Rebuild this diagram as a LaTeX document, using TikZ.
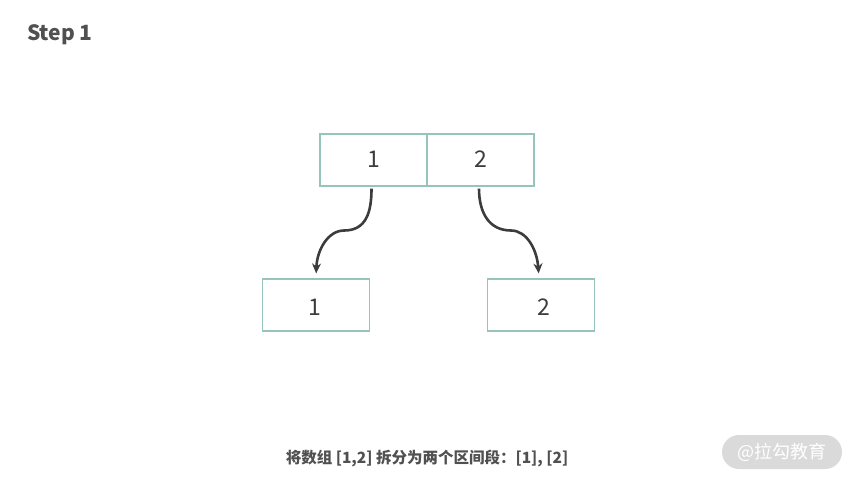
\documentclass[tikz,border=0pt]{standalone}
\usepackage{fontspec}
\setmainfont{Noto Sans CJK SC}
\usepackage{tikz}
\usetikzlibrary{arrows.meta,positioning}
\definecolor{boxline}{RGB}{150,196,186}
\definecolor{ink}{RGB}{60,60,62}
\definecolor{caption}{RGB}{80,80,80}
\definecolor{stamp}{RGB}{218,218,218}
\begin{document}
\begin{tikzpicture}[x=1pt,y=-1pt]
\tikzstyle{cell}=[draw=boxline,line width=1.2pt,minimum width=107pt,minimum height=52pt,inner sep=0pt,text=ink,font=\fontsize{23}{26}\selectfont,node distance=107pt,text height=17pt,text depth=2pt]
\tikzstyle{lowcell}=[cell,text height=21pt,text depth=0pt]
\tikzstyle{arrow}=[draw=ink,line width=2.6pt,-{Stealth[length=10pt,width=9pt]}]
\useasboundingbox (0,0) rectangle (853,480);
\node [cell] at (373.5,160) (u1) {\hspace*{1pt}1};
\node [cell,right of=u1] (u2) {\hspace*{1pt}2};
\node [lowcell] at (316,305) (d1) {\hspace*{-3pt}1};
\node [lowcell] at (541,305) (d2) {\hspace*{5pt}2};
\coordinate (ml) at (344,230.5);
\coordinate (mr) at (511,230.5);
\draw [arrow,shorten <=2pt,shorten >=5pt] ([xshift=-2pt]u1.south) .. controls +(0,26) and (366,230.5) .. (ml) .. controls (328,230.5) and (317,250) .. (d1.north);
\draw [arrow,shorten <=2pt,shorten >=5pt] ([xshift=-1.5pt]u2.south) .. controls +(0,26) and (489,230.5) .. (mr) .. controls (527,230.5) and (537,250) .. ([xshift=-2pt]d2.north);
\node [font=\fontsize{21}{25}\selectfont\bfseries,text=caption,anchor=west,inner sep=0pt] at (27,35) (title) {Step 1};
\node [font=\fontsize{15.5}{18}\selectfont\bfseries,text=caption,inner sep=0pt] at (427,458) (note) {将数组 [1,2] 拆分为两个区间段：[1], [2]};
\node [fill=stamp,rounded corners=17pt,minimum width=120pt,minimum height=34pt,inner sep=0pt,text=white,font=\fontsize{18}{21}\selectfont] at (782,452) (mark) {@拉勾教育};
\end{tikzpicture}
\end{document}
